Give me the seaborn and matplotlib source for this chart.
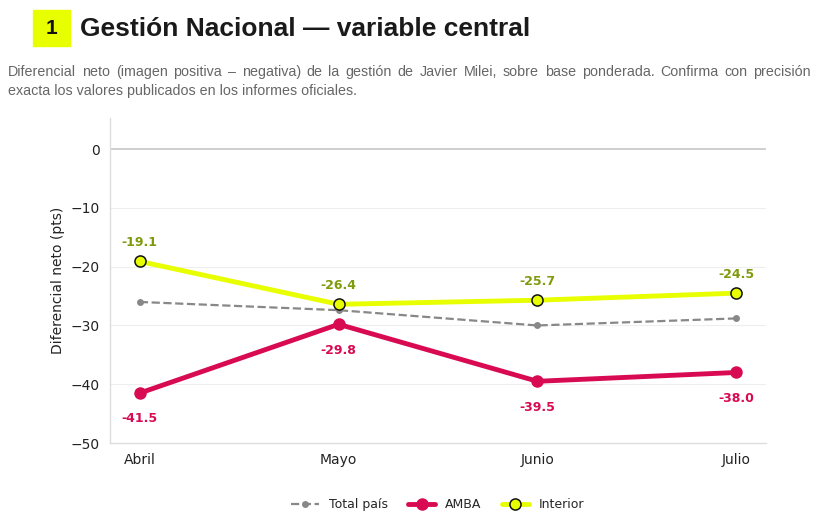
import pandas as pd
import matplotlib.pyplot as plt
import seaborn as sns
from matplotlib.patches import Rectangle

# Datos
meses = ['Abril', 'Mayo', 'Junio', 'Julio']
total_pais = [-26.0, -27.4, -30.0, -28.8]
amba = [-41.5, -29.8, -39.5, -38.0]
interior = [-19.1, -26.4, -25.7, -24.5]

color_amba = '#d80b52'
color_interior = '#e8ff00'
color_total = '#888888'
color_lbl_interior = '#7f9a0c'

sns.set_theme(style='white')
plt.rcParams['font.family'] = ['DejaVu Sans']

fig = plt.figure(figsize=(8.21, 5.21), dpi=100)
ax = fig.add_axes([0.134, 0.1497, 0.799, 0.6238])

x = list(range(len(meses)))

ax.axhline(0, color='#cccccc', lw=1.3, zorder=1)
for v in [-10, -20, -30, -40]:
    ax.axhline(v, color='#eeeeee', lw=0.8, zorder=0)

sns.lineplot(x=x, y=total_pais, ax=ax, color=color_total, lw=1.6, linestyle='--',
             marker='o', markersize=5, markeredgewidth=0, label='Total país', zorder=3)
sns.lineplot(x=x, y=amba, ax=ax, color=color_amba, lw=3.5,
             marker='o', markersize=9, markeredgewidth=0, label='AMBA', zorder=4)
sns.lineplot(x=x, y=interior, ax=ax, color=color_interior, lw=3.5,
             marker='o', markersize=8, markerfacecolor=color_interior,
             markeredgecolor='#111111', markeredgewidth=1.1, label='Interior', zorder=5)

for i, v in enumerate(interior):
    ax.annotate(f'{v:.1f}', (i, v), xytext=(0, 9), textcoords='offset points',
                ha='center', va='bottom', fontsize=9, fontweight='bold', color=color_lbl_interior)
for i, v in enumerate(amba):
    ax.annotate(f'{v:.1f}', (i, v), xytext=(0, -14), textcoords='offset points',
                ha='center', va='top', fontsize=9, fontweight='bold', color=color_amba)

ax.set_xlim(-0.15, 3.15)
ax.set_ylim(-50, 5.3)
ax.set_xticks(x)
ax.set_xticklabels(meses)
ax.set_yticks([0, -10, -20, -30, -40, -50])
ax.tick_params(axis='both', labelsize=10, colors='#222222', length=4, width=0.8)
ax.tick_params(axis='x', color='#999999')
ax.tick_params(axis='y', color='#222222')
ax.set_ylabel('Diferencial neto (pts)', fontsize=10, color='#222222')

for s in ['top', 'right']:
    ax.spines[s].set_visible(False)
for s in ['left', 'bottom']:
    ax.spines[s].set_color('#dddddd')
    ax.spines[s].set_linewidth(1.0)

leg = ax.legend(loc='upper center', bbox_to_anchor=(0.5, -0.135), ncol=3, frameon=False,
                fontsize=9, handlelength=2.2, columnspacing=1.6)

# Encabezado
fig.patches.append(Rectangle((33 / 821, 1 - 46 / 521), 37 / 821, 36 / 521,
                             transform=fig.transFigure, color=color_interior))
fig.text(51.5 / 821, 1 - 28 / 521, '1', ha='center', va='center', fontsize=15,
         fontweight='bold', color='#111111', family='Liberation Sans')
fig.text(80 / 821, 1 - 29 / 521, 'Gestión Nacional — variable central', ha='left', va='center',
         fontsize=19, fontweight='bold', color='#1a1a1a', family='Liberation Sans')

# subtitulo justificado (primera linea)
linea1 = ('Diferencial neto (imagen positiva – negativa) de la gestión de Javier Milei, '
          'sobre base ponderada. Confirma con precisión')
linea2 = 'exacta los valores publicados en los informes oficiales.'
sub_kw = dict(fontsize=10.3, color='#666666', family='Liberation Sans', va='center', ha='left')

renderer = fig.canvas.get_renderer()
palabras = linea1.split(' ')
arts = [fig.text(0, 1 - 72 / 521, w, **sub_kw) for w in palabras]
anchos = [a.get_window_extent(renderer).width for a in arts]
x0, x1 = 8, 811
hueco = (x1 - x0 - sum(anchos)) / (len(palabras) - 1)
pos = x0
for a, w in zip(arts, anchos):
    a.set_x(pos / 821)
    pos += w + hueco
fig.text(8 / 821, 1 - 91 / 521, linea2, **sub_kw)

fig.savefig('out.png', dpi=100)
